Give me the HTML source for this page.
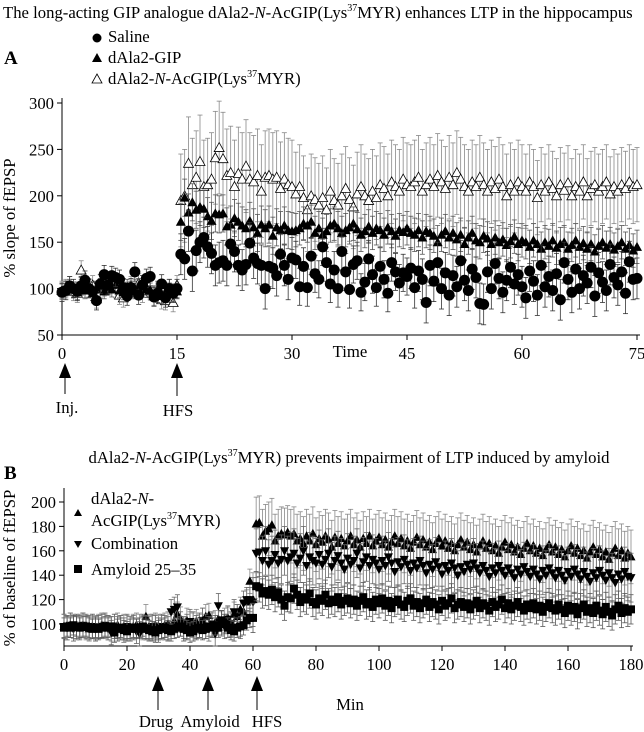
<!DOCTYPE html>
<html><head><meta charset="utf-8">
<style>
body{margin:0;background:#fff;}
svg{display:block;font-family:"Liberation Serif",serif;}
</style></head>
<body>
<svg id="fig" width="644" height="732" viewBox="0 0 644 732">
<text x="3" y="18" font-size="16.7">The long-acting GIP analogue dAla2-<tspan font-style="italic">N</tspan>-AcGIP(Lys<tspan font-size="10" dy="-7">37</tspan><tspan dy="7">MYR) enhances LTP in the hippocampus</tspan></text>
<text x="4" y="64" font-size="19" font-weight="bold">A</text>
<g>
<circle cx="97" cy="38" r="4.5" fill="#000"/>
<text x="108" y="42" font-size="16.7">Saline</text>
<polygon points="97,53 102,62 92,62" fill="#000"/>
<text x="108" y="63" font-size="16.7">dAla2-GIP</text>
<polygon points="97,74 102,83 92,83" fill="#fff" stroke="#000" stroke-width="0.8"/>
<text x="108" y="84" font-size="16.7">dAla2-<tspan font-style="italic">N</tspan>-AcGIP(Lys<tspan font-size="10" dy="-7">37</tspan><tspan dy="7">MYR)</tspan></text>
</g>
<text transform="translate(15,218) rotate(-90)" text-anchor="middle" font-size="16.7">% slope of fEPSP</text>
<text x="350" y="357" text-anchor="middle" font-size="16.7">Time</text>
<g>
<polygon points="65,363 59,378 71,378" fill="#000"/><line x1="65" y1="378" x2="65" y2="394" stroke="#000"/>
<text x="67" y="413" text-anchor="middle" font-size="16.7">Inj.</text></g>
<g>
<polygon points="177,363 171,378 183,378" fill="#000"/><line x1="177" y1="378" x2="177" y2="396" stroke="#000"/>
<text x="178" y="416" text-anchor="middle" font-size="16.7">HFS</text></g>

<text x="4" y="479" font-size="19" font-weight="bold">B</text>
<text x="349" y="463" text-anchor="middle" font-size="16.7">dAla2-<tspan font-style="italic">N</tspan>-AcGIP(Lys<tspan font-size="10" dy="-7">37</tspan><tspan dy="7">MYR) prevents impairment of LTP induced by amyloid</tspan></text>
<g>
<polygon points="78,509 82,516 74,516" fill="#000"/>
<text x="91" y="504" font-size="16.7">dAla2-<tspan font-style="italic">N</tspan>-</text>
<text x="91" y="526" font-size="16.7">AcGIP(Lys<tspan font-size="10" dy="-7">37</tspan><tspan dy="7">MYR)</tspan></text>
<polygon points="74,541 82,541 78,548" fill="#000"/>
<text x="91" y="549" font-size="16.7">Combination</text>
<rect x="74" y="565" width="8" height="8" fill="#000"/>
<text x="91" y="575" font-size="16.7">Amyloid 25–35</text>
</g>
<text transform="translate(15,568) rotate(-90)" text-anchor="middle" font-size="16.7">% of baseline of fEPSP</text>
<text x="350" y="710" text-anchor="middle" font-size="16.7">Min</text>
<g>
<polygon points="158,676 152,691 164,691" fill="#000"/><line x1="158" y1="691" x2="158" y2="710" stroke="#000"/>
<text x="156" y="727" text-anchor="middle" font-size="16.7">Drug</text></g>
<g>
<polygon points="208,676 202,691 214,691" fill="#000"/><line x1="208" y1="691" x2="208" y2="710" stroke="#000"/>
<text x="210" y="727" text-anchor="middle" font-size="16.7">Amyloid</text></g>
<g>
<polygon points="257,676 251,691 263,691" fill="#000"/><line x1="257" y1="691" x2="257" y2="710" stroke="#000"/>
<text x="267" y="727" text-anchor="middle" font-size="16.7">HFS</text></g>
</svg>
<script>
// ---------- Panel A data (t = 0..75 min, step 0.5) ----------
const ticksAX = [0,15,30,45,60,75];
const ticksAY = [50,100,150,200,250,300];
const salineA = [96,98,103,100,97,103,109,100,97,87,105,115,104,114,112,110,101,92,101,118,93,104,111,113,91,95,105,90,100,95,100,
137,132,162,119,141,150,155,145,138,125,128,130,125,148,140,125,120,126,149,133,127,125,100,124,122,114,137,125,110,133,
131,102,124,101,135,116,110,145,128,105,120,100,140,118,99,126,130,96,107,132,115,101,124,110,95,128,118,106,117,113,
122,101,119,110,85,125,108,128,100,117,93,114,102,130,109,98,121,112,84,83,118,100,127,111,96,109,123,105,115,102,
90,119,108,93,125,102,113,98,116,88,128,110,96,121,100,114,106,123,92,117,107,98,126,112,104,118,95,129,110,111];
const gipA = [97,100,102,99,96,104,98,102,95,100,103,97,101,99,104,98,96,102,100,97,103,99,101,98,95,100,92,96,98,94,97,
172,198,182,193,185,188,186,178,173,181,180,181,167,169,176,172,168,165,173,166,160,169,165,169,157,166,163,168,163,162,
163,165,170,168,172,160,165,158,162,168,170,165,160,163,166,170,164,158,162,167,160,165,163,158,166,162,157,163,161,165,
160,158,163,155,162,160,157,150,158,162,155,160,153,158,148,155,160,152,150,157,154,148,155,150,153,147,151,156,148,152,
150,145,152,148,143,150,146,152,144,148,150,143,147,152,145,149,143,148,140,146,150,144,148,142,146,150,143,147,141,145];
const analogueA = [98,100,103,97,95,120,99,101,104,89,100,102,104,108,100,93,90,97,103,100,106,95,101,98,92,97,88,87,100,85,104,
195,200,235,212,220,237,210,212,218,241,252,240,222,225,210,224,218,232,218,215,222,205,220,222,218,220,208,218,212,210,
202,210,198,185,200,196,190,198,185,205,195,190,200,208,196,188,202,210,200,195,205,198,212,208,200,215,210,205,218,212,
210,215,220,205,212,218,210,222,215,208,220,212,225,218,210,205,215,210,220,212,205,215,208,218,210,200,212,205,215,210,
205,215,210,198,212,205,215,208,200,212,206,214,200,210,205,215,200,208,212,205,210,215,202,210,205,212,208,215,210,212];
// error (SEM) per 15-min segment
const salineErrA = [10,22,20,22,22];
const gipErrA = [8,20,18,18,18];
const analogueErrA = [10,50,45,45,40];

// ---------- Panel B data (t = 0..180 min, step 1) ----------
const ticksBX = [0,20,40,60,80,100,120,140,160,180];
const ticksBY = [100,120,140,160,180,200];
const drugB = [98,97,99,98,97,98,99,97,96,98,97,98,99,98,97,96,98,99,97,98,97,96,98,99,98,97,106,98,97,99,98,97,99,100,98,102,108,104,96,103,100,99,102,98,103,106,107,99,101,104,100,103,105,99,108,106,112,110,118,135,
120,182,183,172,176,178,181,168,172,174,173,175,172,174,168,170,166,172,168,174,165,170,167,172,169,163,171,166,170,164,168,172,165,169,163,170,166,172,164,168,171,165,169,163,167,172,166,170,164,168,162,167,171,165,169,163,167,161,166,170,164,168,162,166,160,165,169,163,167,161,165,159,164,168,162,166,160,164,158,163,167,161,165,159,163,157,162,166,160,164,158,162,156,161,165,159,163,157,161,155,160,164,158,162,156,160,154,159,163,157,161,155,159,153,158,162,156,160,154,158,155];
const combinationB = [98,97,99,96,98,97,99,98,97,98,96,97,98,99,97,93,98,96,97,95,98,96,97,94,92,98,97,96,98,97,95,98,97,96,110,112,114,100,96,98,102,100,97,99,103,98,96,100,92,115,101,98,104,100,110,106,98,117,120,120,
118,158,159,152,160,149,152,157,150,153,160,152,155,158,150,154,160,148,155,152,150,157,149,153,158,147,152,156,150,145,154,149,152,158,146,151,155,148,153,150,145,152,148,155,150,143,151,147,153,149,144,150,146,152,148,142,149,145,151,147,141,148,144,150,146,140,147,143,149,145,150,146,142,148,144,139,146,142,148,144,140,146,142,138,145,141,147,143,139,145,141,137,144,140,146,142,138,144,140,136,143,139,145,141,137,143,139,135,142,138,144,140,136,142,138,134,141,137,143,139,138];
const amyloidB = [97,98,97,99,98,97,98,98,97,96,97,96,97,98,97,98,93,96,97,95,94,96,97,96,97,98,96,95,94,93,95,96,97,95,94,96,97,98,96,95,93,94,96,97,95,96,98,97,99,97,103,100,97,95,94,97,98,99,103,105,
105,131,130,125,127,124,128,122,126,120,115,122,121,129,124,118,122,120,125,118,116,121,119,124,117,120,118,122,116,119,121,117,120,115,119,122,116,118,114,120,117,121,115,119,113,118,120,116,114,119,121,115,118,113,117,120,114,118,116,112,119,115,117,121,113,116,118,114,117,112,116,119,113,117,115,111,118,114,116,120,113,117,112,115,118,114,111,116,113,117,112,115,110,114,117,113,111,116,112,109,115,111,114,108,113,116,110,113,109,115,111,108,114,110,107,112,115,109,113,110,112];
const drugErrB = [10,22];
const combinationErrB = [10,20];
const amyloidErrB = [8,12];

const NS = 'http://www.w3.org/2000/svg';
const svg = document.getElementById('fig');
function mk(tag, attrs, parent){
  const e = document.createElementNS(NS, tag);
  for (const k in attrs) e.setAttribute(k, attrs[k]);
  (parent||svg).appendChild(e); return e;
}
const axA = t => 62 + t * (575/75);
const ayA = v => 335 - (v - 50) * (232/250);
const axB = t => 64 + t * (567/180);
const ayB = v => 624 - (v - 100) * (122/100);

function axes(name, x0, x1, yTop, yBot, xt, yt, sx, sy, labY){
  const g = mk('g', {});
  
  
  mk('line', {x1:x0, y1:yTop, x2:x0, y2:yBot, stroke:'#000'}, g);
  mk('line', {x1:x0, y1:yBot, x2:x1, y2:yBot, stroke:'#000'}, g);
  xt.forEach(t => {
    const x = sx(t);
    mk('line', {x1:x, y1:yBot, x2:x, y2:yBot+5, stroke:'#000'}, g);
    const tx = mk('text', {x:x, y:labY, 'text-anchor':'middle', 'font-size':16.7}, g);
    tx.textContent = t;
  });
  yt.forEach(v => {
    const y = sy(v);
    mk('line', {x1:x0-5, y1:y, x2:x0, y2:y, stroke:'#000'}, g);
    const tx = mk('text', {x:x0-8, y:y+6, 'text-anchor':'end', 'font-size':16.7}, g);
    tx.textContent = v;
  });
  return g;
}
axes('axes-a', 62, 640, 98, 335, ticksAX, ticksAY, axA, ayA, 359);
axes('axes-b', 64, 633, 488, 646, ticksBX, ticksBY, axB, ayB, 670);

function series(name, vals, errs, step, segLen, sx, sy, shape, errColor){
  const g = mk('g', {});
  
  
  vals.forEach((v, i) => {
    const t = i * step;
    const e = errs[Math.min(segLen(t), errs.length-1)];
    const x = sx(t), yh = sy(v + e), yl = sy(v - e);
    mk('line', {x1:x, y1:yh, x2:x, y2:yl, stroke:errColor, 'stroke-width':0.8}, g);
    mk('line', {x1:x-2.5, y1:yh, x2:x+2.5, y2:yh, stroke:errColor, 'stroke-width':0.8}, g);
    mk('line', {x1:x-2.5, y1:yl, x2:x+2.5, y2:yl, stroke:errColor, 'stroke-width':0.8}, g);
  });
  vals.forEach((v, i) => {
    const x = sx(i * step), y = sy(v);
    let m;
    if (shape === 'circle') m = mk('circle', {cx:x, cy:y, r:5.5, fill:'#000'}, g);
    else if (shape === 'tri') m = mk('polygon', {points:`${x},${y-5} ${x+5},${y+4} ${x-5},${y+4}`, fill:'#000'}, g);
    else if (shape === 'otri') m = mk('polygon', {points:`${x},${y-5} ${x+5},${y+4} ${x-5},${y+4}`, fill:'#fff', stroke:'#000', 'stroke-width':0.8}, g);
    else if (shape === 'stri') m = mk('polygon', {points:`${x},${y-5} ${x+4.5},${y+3.5} ${x-4.5},${y+3.5}`, fill:'#000'}, g);
    else if (shape === 'dtri') m = mk('polygon', {points:`${x-4.5},${y-3.5} ${x+4.5},${y-3.5} ${x},${y+5}`, fill:'#000'}, g);
    else m = mk('rect', {x:x-4, y:y-4, width:8, height:8, fill:'#000'}, g);
    
    
  });
}
const segA = t => t <= 15 ? 0 : Math.min(4, Math.ceil((t - 15) / 15));
const segB = t => t < 60 ? 0 : 1;
series('series-analogue-a', analogueA, analogueErrA, 0.5, segA, axA, ayA, 'otri', '#888');
series('series-gip-a', gipA, gipErrA, 0.5, segA, axA, ayA, 'tri', '#555');
series('series-saline-a', salineA, salineErrA, 0.5, segA, axA, ayA, 'circle', '#333');
series('series-drug-b', drugB, drugErrB, 1, segB, axB, ayB, 'stri', '#888');
series('series-combination-b', combinationB, combinationErrB, 1, segB, axB, ayB, 'dtri', '#666');
series('series-amyloid-b', amyloidB, amyloidErrB, 1, segB, axB, ayB, 'square', '#555');
</script>
</body></html>
